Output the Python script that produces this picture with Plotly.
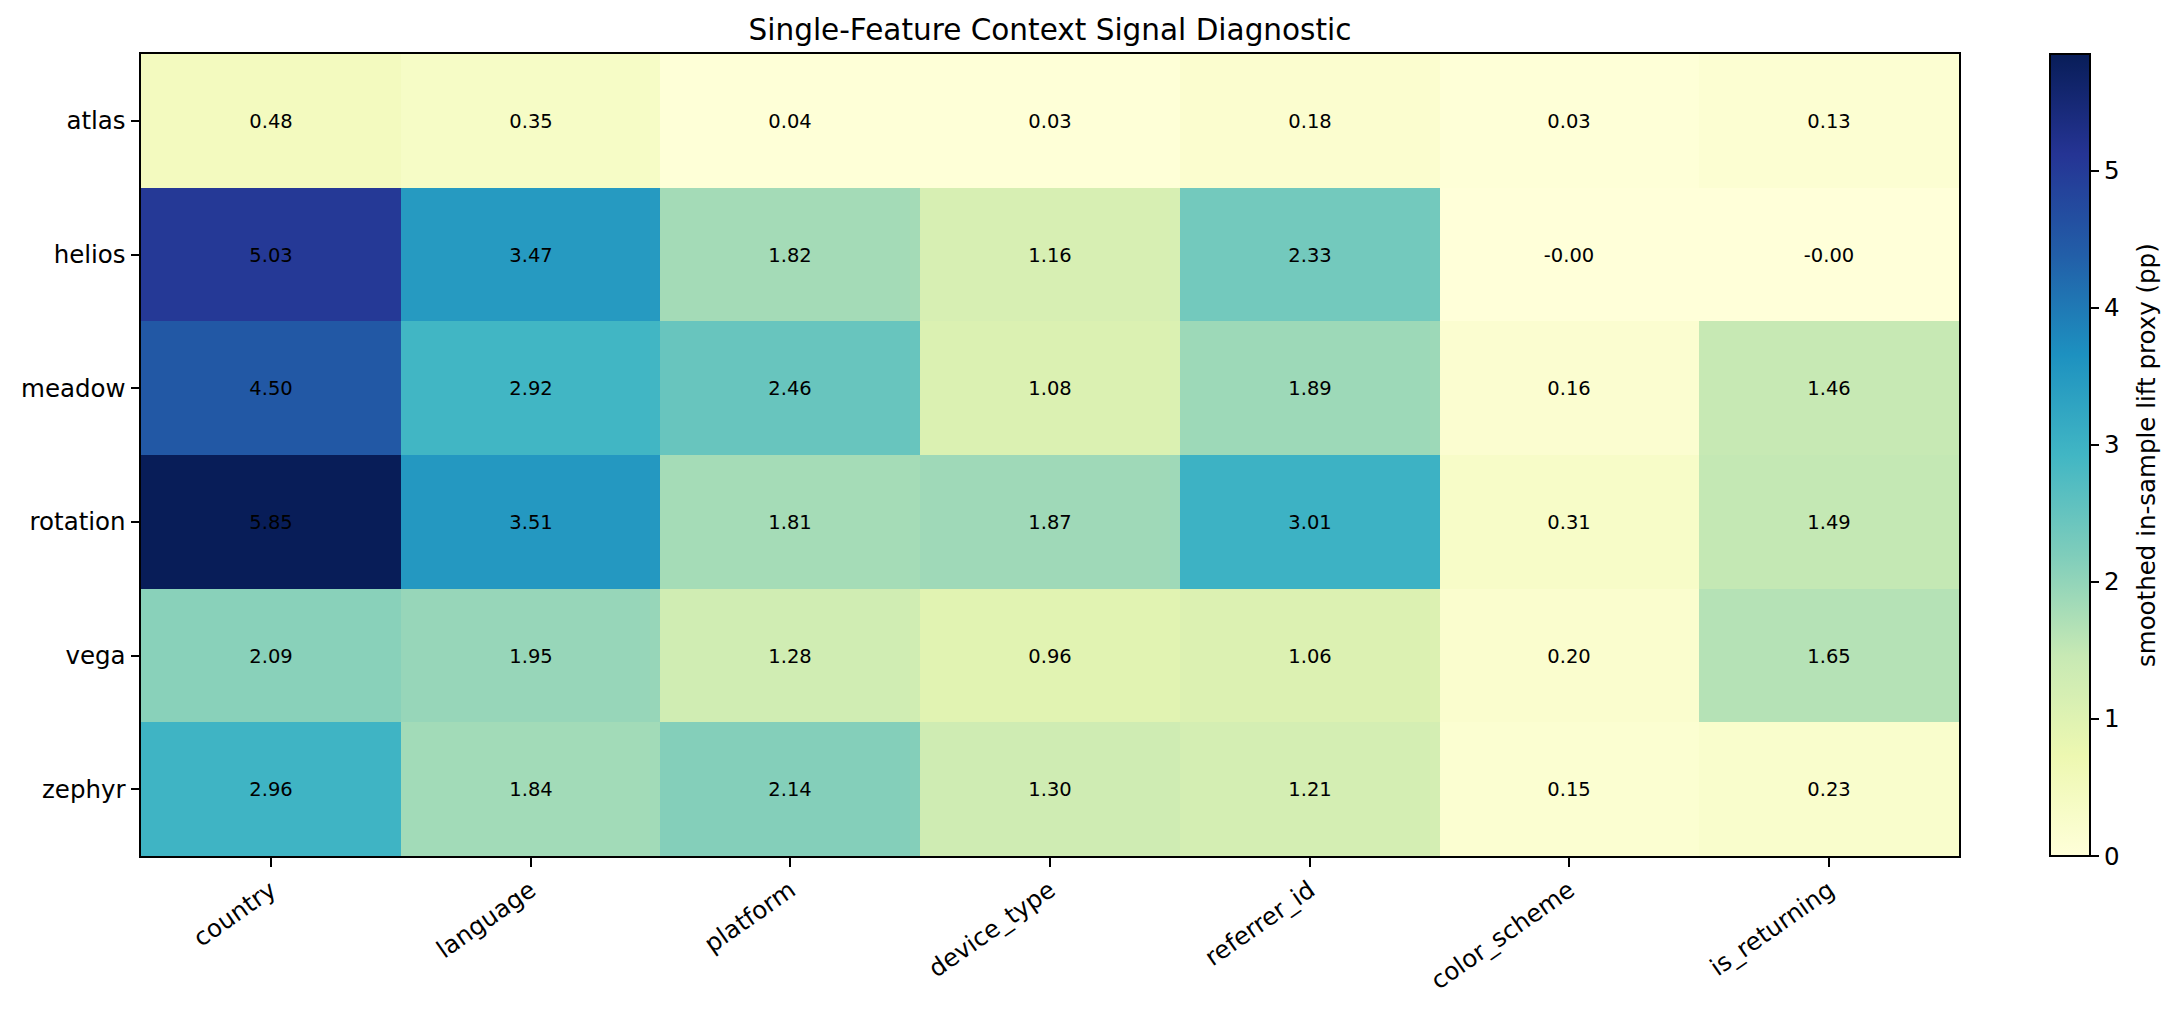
import plotly.graph_objects as go

datasets = ["atlas", "helios", "meadow", "rotation", "vega", "zephyr"]
features = ["country", "language", "platform", "device_type", "referrer_id", "color_scheme", "is_returning"]

atlas = [0.48, 0.35, 0.04, 0.03, 0.18, 0.03, 0.13]
helios = [5.03, 3.47, 1.82, 1.16, 2.33, -0.0, -0.0]
meadow = [4.50, 2.92, 2.46, 1.08, 1.89, 0.16, 1.46]
rotation = [5.85, 3.51, 1.81, 1.87, 3.01, 0.31, 1.49]
vega = [2.09, 1.95, 1.28, 0.96, 1.06, 0.20, 1.65]
zephyr = [2.96, 1.84, 2.14, 1.30, 1.21, 0.15, 0.23]

cbar_ticks = [0, 1, 2, 3, 4, 5]

z = [atlas, helios, meadow, rotation, vega, zephyr]
text = [[f"{v:.2f}" for v in row] for row in z]
zmin = min(min(r) for r in z)
zmax = max(max(r) for r in z)

ylgnbu = ["#ffffd9", "#edf8b1", "#c7e9b4", "#7fcdbb", "#41b6c4",
          "#1d91c0", "#225ea8", "#253494", "#081d58"]
colorscale = [[i / (len(ylgnbu) - 1), c] for i, c in enumerate(ylgnbu)]

FONT = "DejaVu Sans"
W, H = 2176, 1010
L, R, T, B = 141, 217, 54, 154
PW = W - L - R
LW = 2
TICKLEN = 8.5
TICKFS = 24.5

fig = go.Figure(go.Heatmap(
    z=z, x=features, y=datasets,
    text=text, texttemplate="%{text}",
    textfont=dict(family=FONT, size=19.5, color="black"),
    colorscale=colorscale, zmin=zmin, zmax=zmax,
    colorbar=dict(
        x=(2050 - L) / PW, xanchor="left", xref="paper", xpad=0,
        y=0.5, yanchor="middle", len=1, lenmode="fraction", ypad=0,
        thickness=40, outlinewidth=LW, outlinecolor="black",
        ticks="outside", ticklen=TICKLEN, tickwidth=LW, tickcolor="black",
        tickvals=cbar_ticks, ticktext=[str(t) for t in cbar_ticks],
        tickfont=dict(family=FONT, size=TICKFS, color="black"),
    ),
))

fig.update_layout(
    width=W, height=H,
    margin=dict(l=L, r=R, t=T, b=B),
    paper_bgcolor="white", plot_bgcolor="white",
    font=dict(family=FONT, color="black"),
    title=dict(text="Single-Feature Context Signal Diagnostic",
               font=dict(family=FONT, size=29.5, color="black"),
               x=0.5, xref="paper", xanchor="center",
               y=1 - 30 / H, yref="container", yanchor="middle"),
    annotations=[dict(
        text="smoothed in-sample lift proxy (pp)",
        xref="paper", yref="paper",
        x=(2146 - L) / PW, y=0.5,
        xanchor="center", yanchor="middle",
        textangle=-90, showarrow=False,
        font=dict(family=FONT, size=TICKFS, color="black"),
    )],
)

fig.update_xaxes(
    showline=True, mirror=True, linecolor="black", linewidth=LW,
    ticks="outside", ticklen=TICKLEN, tickwidth=LW, tickcolor="black",
    tickangle=-35, tickfont=dict(family=FONT, size=TICKFS, color="black"),
    showgrid=False, zeroline=False,
)
fig.update_yaxes(
    autorange="reversed",
    showline=True, mirror=True, linecolor="black", linewidth=LW,
    ticks="outside", ticklen=TICKLEN, tickwidth=LW, tickcolor="black",
    tickfont=dict(family=FONT, size=TICKFS, color="black"),
    showgrid=False, zeroline=False,
)

fig.write_html("out.html", config={"displayModeBar": False},
               post_script="document.body.style.margin='0';")
